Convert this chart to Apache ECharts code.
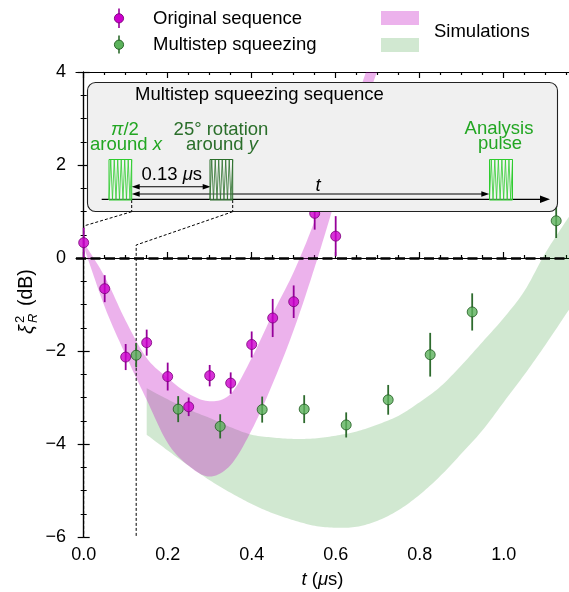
<!DOCTYPE html>
<html><head><meta charset="utf-8">
<script src="https://cdn.jsdelivr.net/npm/echarts@6/dist/echarts.min.js"></script>
<style>html,body{margin:0;padding:0;background:#fff}#c{width:569px;height:592px}</style>
</head><body><div id="c"></div>
<script>
// ---- data ----
const origT   = [0.0, 0.05, 0.1, 0.15, 0.2, 0.25, 0.3, 0.35, 0.4, 0.45, 0.5, 0.55, 0.6];
const origY   = [0.33, -0.66, -2.13, -1.82, -2.55, -3.2, -2.53, -2.69, -1.86, -1.29, -0.94, 0.96, 0.47];
const origErr = [0.32, 0.29, 0.28, 0.28, 0.3, 0.2, 0.23, 0.23, 0.28, 0.41, 0.35, 0.35, 0.43];

const multiT   = [0.125, 0.225, 0.325, 0.425, 0.525, 0.625, 0.725, 0.825, 0.925, 1.125];
const multiY   = [-2.09, -3.25, -3.62, -3.26, -3.25, -3.59, -3.05, -2.08, -1.16, 0.8];
const multiErr = [0.26, 0.28, 0.26, 0.28, 0.3, 0.27, 0.32, 0.47, 0.4, 0.37];

const pinkT    = [0, 0.05, 0.1, 0.15, 0.2, 0.25, 0.3, 0.35, 0.4, 0.45, 0.5, 0.55, 0.6, 0.65, 0.7, 0.75];
const pinkHigh = [0.33, -0.4, -1.35, -2.15, -2.58, -2.92, -3.08, -2.92, -2.15, -1.2, -0.3, 0.8, 2.1, 3.4, 4.8, 6.3];
const pinkLow  = [0.25, -1.05, -2.09, -3.05, -3.98, -4.47, -4.70, -4.45, -3.7, -2.7, -1.55, -0.2, 1.28, 2.8, 4.05, 5.5];

const greenT    = [0.15, 0.2, 0.25, 0.3, 0.35, 0.4, 0.45, 0.5, 0.55, 0.6, 0.65, 0.7, 0.75, 0.8, 0.85, 0.9, 0.95, 1.0, 1.05, 1.1, 1.16];
const greenHigh = [-2.8, -3.04, -3.26, -3.44, -3.64, -3.8, -3.86, -3.89, -3.88, -3.82, -3.73, -3.58, -3.39, -3.1, -2.76, -2.3, -1.8, -1.29, -0.7, 0.12, 0.95];
const greenLow  = [-3.8, -4.14, -4.47, -4.78, -5.05, -5.29, -5.49, -5.64, -5.76, -5.8, -5.78, -5.65, -5.42, -5.09, -4.68, -4.2, -3.7, -3.1, -2.5, -1.86, -1.05];

const xMajor = [0, 0.2, 0.4, 0.6, 0.8, 1.0];
const xMinor = [0.05, 0.1, 0.15, 0.25, 0.3, 0.35, 0.45, 0.5, 0.55, 0.65, 0.7, 0.75, 0.85, 0.9, 0.95, 1.05, 1.1, 1.15];
const xMin = -0.0183, xMax = 1.1555;
const yMin = -6, yMax = 4, yStep = 2;

const FONT = '"Liberation Sans", Arial, sans-serif';
const FS = 18.5;
const chart = echarts.init(document.getElementById('c'), null, {renderer: 'canvas'});

function errItem(color) {
  return function (params, api) {
    const t = api.value(0), y = api.value(1), e = api.value(2);
    const a = api.coord([t, y - e]), b = api.coord([t, y + e]);
    return {type: 'line', shape: {x1: a[0], y1: a[1], x2: b[0], y2: b[1]},
            style: {stroke: color, lineWidth: 1.8}};
  };
}
// smooth a pixel polyline (Catmull-Rom) for drawing only
function smoothPix(p) {
  const out = [];
  const n = p.length;
  for (let i = 0; i < n - 1; i++) {
    const p0 = p[Math.max(0, i - 1)], p1 = p[i], p2 = p[i + 1], p3 = p[Math.min(n - 1, i + 2)];
    const c1 = [p1[0] + (p2[0] - p0[0]) / 6, p1[1] + (p2[1] - p0[1]) / 6];
    const c2 = [p2[0] - (p3[0] - p1[0]) / 6, p2[1] - (p3[1] - p1[1]) / 6];
    for (let s = 0; s < 10; s++) {
      const u = s / 10, v = 1 - u;
      out.push([v*v*v*p1[0] + 3*v*v*u*c1[0] + 3*v*u*u*c2[0] + u*u*u*p2[0],
                v*v*v*p1[1] + 3*v*v*u*c1[1] + 3*v*u*u*c2[1] + u*u*u*p2[1]]);
    }
  }
  out.push(p[n - 1]);
  return out;
}
function bandItem(T, H, L, color) {
  return function (params, api) {
    if (params.dataIndex !== 0) return null;
    const up = smoothPix(T.map((t, i) => api.coord([t, H[i]])));
    const lo = smoothPix(T.map((t, i) => api.coord([t, L[i]])));
    return {type: 'polygon', shape: {points: up.concat(lo.reverse())}, style: {fill: color, stroke: null}};
  };
}
const axLine = {show: true, lineStyle: {color: '#000', width: 1.2}};
const tickLS = {color: '#000', width: 1.2};

function xAx(pos, vals, len, withLabel, showLine) {
  return {
    type: 'value', min: xMin, max: xMax, position: pos, gridIndex: 0,
    axisLine: showLine ? axLine : {show: false},
    axisTick: {show: true, inside: true, length: len, customValues: vals, lineStyle: tickLS},
    axisLabel: withLabel ? {show: true, customValues: vals, margin: 9, fontSize: 18, color: '#000', fontFamily: FONT,
      formatter: v => Number(v).toFixed(1)} : {show: false},
    splitLine: {show: false}
  };
}
const xAxes = [xAx('bottom', xMajor, 6, true, true), xAx('bottom', xMinor, 3, false, false),
               xAx('top', xMajor, 6, false, true), xAx('top', xMinor, 3, false, false)];
xAxes[0].name = '{i|t} ({i|μ}s)';
xAxes[0].nameLocation = 'middle';
xAxes[0].nameGap = 34;
xAxes[0].nameTextStyle = {fontSize: FS, color: '#000', fontFamily: FONT, lineHeight: 18,
  rich: {i: {fontStyle: 'italic', fontSize: FS, fontFamily: FONT, color: '#000', lineHeight: 18}}};

function yAx(pos, withLabel) {
  return {
    type: 'value', min: yMin, max: yMax, interval: yStep, position: pos,
    axisLine: axLine,
    axisTick: {show: true, inside: true, length: 6, lineStyle: tickLS},
    minorTick: {show: true, splitNumber: 4, length: 3, lineStyle: {color: '#000', width: 1}},
    axisLabel: withLabel ? {show: true, margin: 10, fontSize: 18, color: '#000', fontFamily: FONT,
      formatter: v => (v < 0 ? '\u2212' : '') + Math.abs(v)} : {show: false},
    splitLine: {show: false}, minorSplitLine: {show: false}
  };
}

const option = {
  animation: false,
  backgroundColor: '#fff',
  grid: {left: 76, right: 0, top: 72, bottom: 55, containLabel: false, outerBoundsMode: 'none'},
  xAxis: xAxes,
  yAxis: [yAx('left', true), yAx('right', false)],
  series: [
    {type: 'custom', name: 'Simulations (multistep)', renderItem: bandItem(greenT, greenHigh, greenLow, 'rgba(0,128,0,0.18)'),
     data: greenT.map((t, i) => [t, greenLow[i], greenHigh[i]]), encode: {x: 0, y: [1, 2]}, clip: true, z: 1, silent: true},
    {type: 'custom', name: 'Simulations (original)', renderItem: bandItem(pinkT, pinkHigh, pinkLow, 'rgba(192,0,192,0.3)'),
     data: pinkT.map((t, i) => [t, pinkLow[i], pinkHigh[i]]), encode: {x: 0, y: [1, 2]}, clip: true, z: 2, silent: true},
    {type: 'custom', name: 'gErr', renderItem: errItem('#2e6b2e'), data: multiT.map((t, i) => [t, multiY[i], multiErr[i]]),
     encode: {x: 0, y: 1}, z: 4, clip: true, silent: true},
    {type: 'scatter', name: 'Multistep squeezing', data: multiT.map((t, i) => [t, multiY[i]]), symbolSize: 10,
     itemStyle: {color: '#5cb25c', borderColor: '#1e5a1e', borderWidth: 1}, z: 5,
     markLine: {silent: true, symbol: 'none', label: {show: false}, animation: false, z: 3,
       lineStyle: {color: '#000', width: 2.6, type: [10, 4.5]}, data: [{yAxis: 0}]}},
    {type: 'custom', name: 'pErr', renderItem: errItem('#96009a'), data: origT.map((t, i) => [t, origY[i], origErr[i]]),
     encode: {x: 0, y: 1}, z: 6, clip: true, silent: true},
    {type: 'scatter', name: 'Original sequence', data: origT.map((t, i) => [t, origY[i]]), symbolSize: 10,
     itemStyle: {color: '#cc00cc', borderColor: '#7a007a', borderWidth: 1}, z: 7}
  ]
};
chart.setOption(option);

// ---- annotations (legend, inset) ----
const px0 = chart.convertToPixel({xAxisIndex: 0}, 0);
const px125 = chart.convertToPixel({xAxisIndex: 0}, 0.125);
const pyBot = chart.convertToPixel({yAxisIndex: 0}, yMin);

function txt(x, y, text, opt) {
  opt = opt || {};
  return {type: 'text', x: x, y: y, z: opt.z || 120, style: Object.assign({
    text: text, fontSize: FS, fontFamily: FONT, fill: opt.color || '#000',
    align: opt.align || 'left', verticalAlign: 'middle',
    textAlign: opt.align || 'left', textVerticalAlign: 'middle'
  }, opt.style || {})};
}
function line(x1, y1, x2, y2, stroke, w, dash, z) {
  return {type: 'line', z: z || 120, shape: {x1, y1, x2, y2}, style: {stroke, lineWidth: w, lineDash: dash || null}};
}
function poly(points, stroke, w, dash, z) {
  return {type: 'polyline', z: z || 120, shape: {points}, style: {stroke, lineWidth: w, fill: null, lineDash: dash || null}};
}
function head(xTip, y, dir, len, half) {
  return {type: 'polygon', z: 121, shape: {points: [[xTip, y], [xTip - dir * len, y - half], [xTip - dir * len, y + half]]},
          style: {fill: '#000'}};
}
function pulse(x, y, w, h, color) {
  const pts = [];
  const n = 13;
  for (let k = 0; k <= n; k++) pts.push([x + k * w / n, (k % 2 === 0) ? y + h : y]);
  return [
    {type: 'rect', z: 121, shape: {x, y, width: w, height: h}, style: {fill: 'rgba(255,255,255,0.35)', stroke: color, lineWidth: 1}},
    poly(pts, color, 0.8, null, 122)
  ];
}

const ital = {i: {fontStyle: 'italic', fontSize: FS, fontFamily: FONT}};
const bright = '#22a622', dark = '#2a6e2a';
const yTL = 199.3;
const g = [
  // legend
  line(119, 8.5, 119, 28, '#96009a', 1.6),
  {type: 'circle', z: 121, shape: {cx: 119, cy: 18.3, r: 4.6}, style: {fill: '#cc00cc', stroke: '#7a007a', lineWidth: 0.9}},
  line(119, 35.5, 119, 53.5, '#2e6b2e', 1.6),
  {type: 'circle', z: 121, shape: {cx: 119, cy: 44.7, r: 4.6}, style: {fill: '#5cb25c', stroke: '#1e5a1e', lineWidth: 0.9}},
  txt(153, 18.5, 'Original sequence'),
  txt(153, 45, 'Multistep squeezing'),
  {type: 'rect', z: 120, shape: {x: 381, y: 11, width: 38, height: 14}, style: {fill: 'rgba(192,0,192,0.3)'}},
  {type: 'rect', z: 120, shape: {x: 381, y: 38, width: 38, height: 14}, style: {fill: 'rgba(0,128,0,0.18)'}},
  txt(434, 32, 'Simulations'),
  // y axis title
  {type: 'group', x: 27, y: 334, rotation: Math.PI / 2, z: 120, children: [
    txt(0, 0, 'ξ', {style: {fontStyle: 'italic', fontSize: 20}}),
    txt(11, -7, '2', {style: {fontSize: 13}}),
    txt(11, 6, 'R', {style: {fontStyle: 'italic', fontSize: 13}}),
    txt(28, 0, '(dB)', {style: {fontSize: 19.5}})
  ]},
  // connectors (below the box)
  poly([[131.7, 211.7], [px0, 226], [px0, pyBot]], '#000', 1, [3, 2], 3),
  poly([[232.7, 211.7], [px125, 245], [px125, pyBot]], '#000', 1, [3, 2], 3),
  // inset box
  {type: 'rect', z: 110, shape: {x: 87.5, y: 82.5, width: 470, height: 129, r: 8},
   style: {fill: '#f0f0f0', stroke: '#222', lineWidth: 1.1}},
  line(131.7, 200, 131.7, 211.7, '#000', 1, [3, 2], 120),
  line(232.7, 200, 232.7, 211.7, '#000', 1, [3, 2], 120),
  txt(135, 94.8, 'Multistep squeezing sequence'),
  txt(125, 129.5, '{i|π}/2', {align: 'center', color: bright, style: {rich: ital}}),
  txt(126, 145, 'around {i|x}', {align: 'center', color: bright, style: {rich: ital}}),
  txt(221, 129.5, '25° rotation', {align: 'center', color: dark}),
  txt(222, 145, 'around {i|y}', {align: 'center', color: dark, style: {rich: ital}}),
  txt(499, 128.8, 'Analysis', {align: 'center', color: bright}),
  txt(500, 144, 'pulse', {align: 'center', color: bright}),
  txt(141.5, 175, '0.13 {i|μ}s', {style: {rich: ital}}),
  txt(318, 185.5, 't', {align: 'center', style: {fontStyle: 'italic'}}),
  // time line and arrows
  line(101.7, yTL, 541, yTL, '#000', 1.2),
  head(550, yTL, 1, 10, 3.8),
  line(137, 186.7, 205, 186.7, '#000', 1.1),
  head(131.7, 186.7, -1, 8, 2.8), head(210.7, 186.7, 1, 8, 2.8),
  line(137, 194, 484, 194, '#000', 1.1),
  head(131.7, 194, -1, 8, 2.8), head(489.3, 194, 1, 8, 2.8)
].concat(pulse(109, 159.5, 22.7, 40.5, '#2ecc2e'))
 .concat(pulse(210, 159.5, 22.7, 40.5, dark))
 .concat(pulse(489.5, 159.5, 23, 40.5, '#2ecc2e'));

chart.setOption({graphic: g});
</script>
</body></html>
